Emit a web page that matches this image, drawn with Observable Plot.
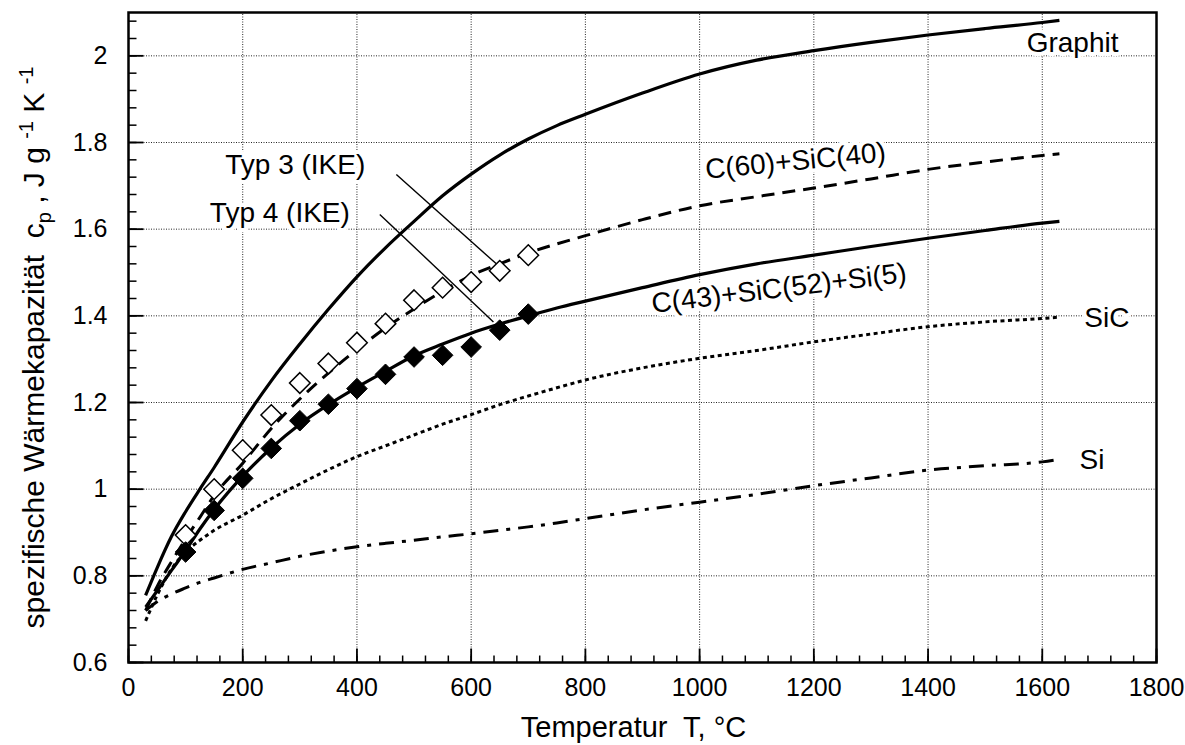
<!DOCTYPE html>
<html><head><meta charset="utf-8">
<script src="https://cdn.jsdelivr.net/npm/d3@7"></script>
<script src="https://cdn.jsdelivr.net/npm/@observablehq/plot@0.6"></script>
<style>body{margin:0;background:#fff}</style>
</head><body><div id="chart"></div>
<script>
// ---- data ----
const curveT = [30,50,75,100,125,150,200,250,300,350,400,450,500,550,600,650,700,750,800,900,1000,1100,1200,1300,1400,1500,1600,1630];
const graphitCp = [0.755,0.818,0.89,0.948,1.0,1.05,1.155,1.25,1.335,1.415,1.49,1.557,1.618,1.677,1.727,1.771,1.808,1.839,1.865,1.914,1.958,1.99,2.012,2.031,2.048,2.063,2.077,2.082];
const c60Cp     = [0.72,0.775,0.832,0.885,0.935,0.985,1.06,1.14,1.208,1.268,1.322,1.372,1.416,1.457,1.493,1.52,1.545,1.566,1.585,1.622,1.654,1.675,1.695,1.716,1.738,1.755,1.77,1.774];
const c43Cp     = [0.728,0.765,0.812,0.858,0.908,0.953,1.03,1.095,1.15,1.195,1.235,1.272,1.308,1.335,1.36,1.381,1.40,1.418,1.434,1.465,1.495,1.52,1.54,1.56,1.579,1.597,1.614,1.618];
const sicCp     = [0.696,0.755,0.815,0.855,0.882,0.905,0.94,0.978,1.012,1.045,1.075,1.10,1.125,1.15,1.172,1.195,1.215,1.234,1.252,1.28,1.302,1.32,1.34,1.358,1.375,1.386,1.394,1.397];
const siCp      = [0.72,0.74,0.758,0.772,0.785,0.795,0.815,0.83,0.845,0.857,0.867,0.875,0.882,0.89,0.897,0.905,0.913,0.922,0.932,0.952,0.97,0.988,1.008,1.026,1.044,1.054,1.063,1.069];

const pointT  = [100,150,200,250,300,350,400,450,500,550,600,650,700];
const typ3Cp  = [0.894,1.0,1.09,1.171,1.245,1.29,1.338,1.382,1.436,1.465,1.478,1.504,1.54];
const typ4Cp  = [0.855,0.951,1.025,1.094,1.158,1.196,1.232,1.265,1.305,1.309,1.328,1.367,1.404];

const xDomain = [0, 1800];
const yDomain = [0.6, 2.1];
const xMajor = [0,200,400,600,800,1000,1200,1400,1600,1800];
const xMinor = d3.range(0, 1801, 40);
const yMajor = [0.6,0.8,1,1.2,1.4,1.6,1.8,2];
const yMinor = d3.range(0, 38).map(i => +(0.6 + i*0.04).toFixed(2));
const xGrid = [200,400,600,800,1000,1200,1400,1600];
const yGrid = [0.8,1,1.2,1.4,1.6,1.8,2];

const labelText = ["Graphit","C(60)+SiC(40)","C(43)+SiC(52)+Si(5)","SiC","Si","Typ 3 (IKE)","Typ 4 (IKE)"];
const labelT    = [1653,1168,1139,1713,1687,292,265];
const labelCp   = [2.029,1.757,1.463,1.394,1.067,1.748,1.637];
const labelRot  = [0,-5.5,-7,0,0,0,0];

const leaderT1  = [469,440];
const leaderCp1 = [1.726,1.634];
const leaderT2  = [644,639];
const leaderCp2 = [1.52,1.386];

const xTitle = "Temperatur  T, °C";
const yTitleParts = [["spezifische Wärmekapazität  c",""],["p","sub"],[" , J g ",""],["-1","sup"],[" K ",""],["-1","sup"]];
const yTitle = yTitleParts.map(p => p[0]).join("");

// ---- layout ----
const W = 1185, H = 745, mL = 128, mR = 29, mT = 12, mB = 83;
const innerW = W - mL - mR, innerH = H - mT - mB;
const xPerPx = (xDomain[1] - xDomain[0]) / innerW;
const yPerPx = (yDomain[1] - yDomain[0]) / innerH;

// ---- build rows ----
const curve = cp => curveT.map((t,i) => ({T: t, cp: cp[i]}));
const pts = cp => pointT.map((t,i) => ({T: t, cp: cp[i]}));
const labels = labelText.map((s,i) => ({s, T: labelT[i], cp: labelCp[i], r: labelRot[i]}));
const leaders = leaderT1.map((t,i) => ({x1: t, y1: leaderCp1[i], x2: leaderT2[i], y2: leaderCp2[i]}));
const fmt = d => String(+d.toFixed(1));
const font = "'Liberation Sans', Arial, sans-serif";

const lineOpts = {x: "T", y: "cp", stroke: "black", strokeWidth: 3, curve: "monotone-x", strokeLinecap: "butt"};
const gridOpts = {stroke: "black", strokeOpacity: 0.85, strokeWidth: 1, strokeDasharray: "1,1.5"};
const xTicks = (data, len, w) => Plot.link(data, {x1: d => d, x2: d => d, y1: yDomain[0], y2: yDomain[0] + len * yPerPx, stroke: "black", strokeWidth: w});
const yTicks = (data, len, w) => Plot.link(data, {y1: d => d, y2: d => d, x1: xDomain[0], x2: xDomain[0] + len * xPerPx, stroke: "black", strokeWidth: w});

const chart = Plot.plot({
  width: W, height: H,
  marginLeft: mL, marginRight: mR, marginTop: mT, marginBottom: mB,
  style: {fontFamily: font, background: "white", color: "black"},
  x: {domain: xDomain},
  y: {domain: yDomain},
  marks: [
    Plot.link(xGrid, {x1: d => d, x2: d => d, y1: yDomain[0], y2: yDomain[1], ...gridOpts}),
    Plot.link(yGrid, {y1: d => d, y2: d => d, x1: xDomain[0], x2: xDomain[1], ...gridOpts}),
    ...labels.map(l => Plot.text([l], {x: "T", y: "cp", text: "s", rotate: l.r, fontSize: 28, fill: "black", stroke: "white", strokeWidth: 8, textAnchor: "middle", lineAnchor: "middle"})),
    Plot.link(leaders, {x1: "x1", y1: "y1", x2: "x2", y2: "y2", stroke: "black", strokeWidth: 1.4}),
    Plot.line(curve(graphitCp), {...lineOpts, strokeWidth: 3.2}),
    Plot.line(curve(c60Cp), {...lineOpts, strokeDasharray: "13,8"}),
    Plot.line(curve(c43Cp), {...lineOpts, strokeWidth: 3.2}),
    Plot.line(curve(sicCp), {...lineOpts, strokeDasharray: "4,3.5"}),
    Plot.line(curve(siCp), {...lineOpts, strokeDasharray: "15,8,4,8"}),
    Plot.dot(pts(typ3Cp), {x: "T", y: "cp", symbol: "diamond2", r: 9.3, fill: "white", stroke: "black", strokeWidth: 1.5}),
    Plot.dot(pts(typ4Cp), {x: "T", y: "cp", symbol: "diamond2", r: 9.3, fill: "black", stroke: "black", strokeWidth: 1}),
    // inward ticks
    xTicks(xMajor, 14, 1.8),
    xTicks(xMinor, 7, 1.5),
    yTicks(yMajor, 15, 1.8),
    yTicks(yMinor, 8, 1.5),
    // tick labels
    Plot.axisX({ticks: xMajor, tickSize: 0, tickPadding: 16, tickFormat: d => String(d), fontSize: 25, label: null}),
    Plot.axisY({ticks: yMajor, tickSize: 0, tickPadding: 21, tickFormat: fmt, fontSize: 25, label: null}),
    // titles
    Plot.text([xTitle], {frameAnchor: "bottom", text: d => d, dx: -9, dy: 74.5, textAnchor: "middle", lineAnchor: "bottom", fontSize: 29, fill: "black"}),
    Plot.text([yTitle], {frameAnchor: "left", text: d => d, rotate: -90, dx: -94, dy: 10, textAnchor: "middle", lineAnchor: "middle", fontSize: 30, fill: "black"}),
    Plot.frame({stroke: "black", strokeWidth: 2.5})
  ]
});
document.getElementById("chart").appendChild(chart);

// subscript / superscript for the y title
for (const t of chart.querySelectorAll("text")) {
  if (t.textContent === yTitle) {
    t.textContent = "";
    t.style.whiteSpace = "pre";
    let shift = 0;
    for (const [s, kind] of yTitleParts) {
      const ts = document.createElementNS("http://www.w3.org/2000/svg", "tspan");
      const target = kind === "sub" ? 7 : kind === "sup" ? -11 : 0;
      ts.setAttribute("dy", target - shift);
      shift = target;
      if (kind) ts.setAttribute("font-size", "20");
      ts.textContent = s;
      t.appendChild(ts);
    }
  } else if (t.textContent === xTitle) {
    t.style.whiteSpace = "pre";
  }
}
</script>
</body></html>
